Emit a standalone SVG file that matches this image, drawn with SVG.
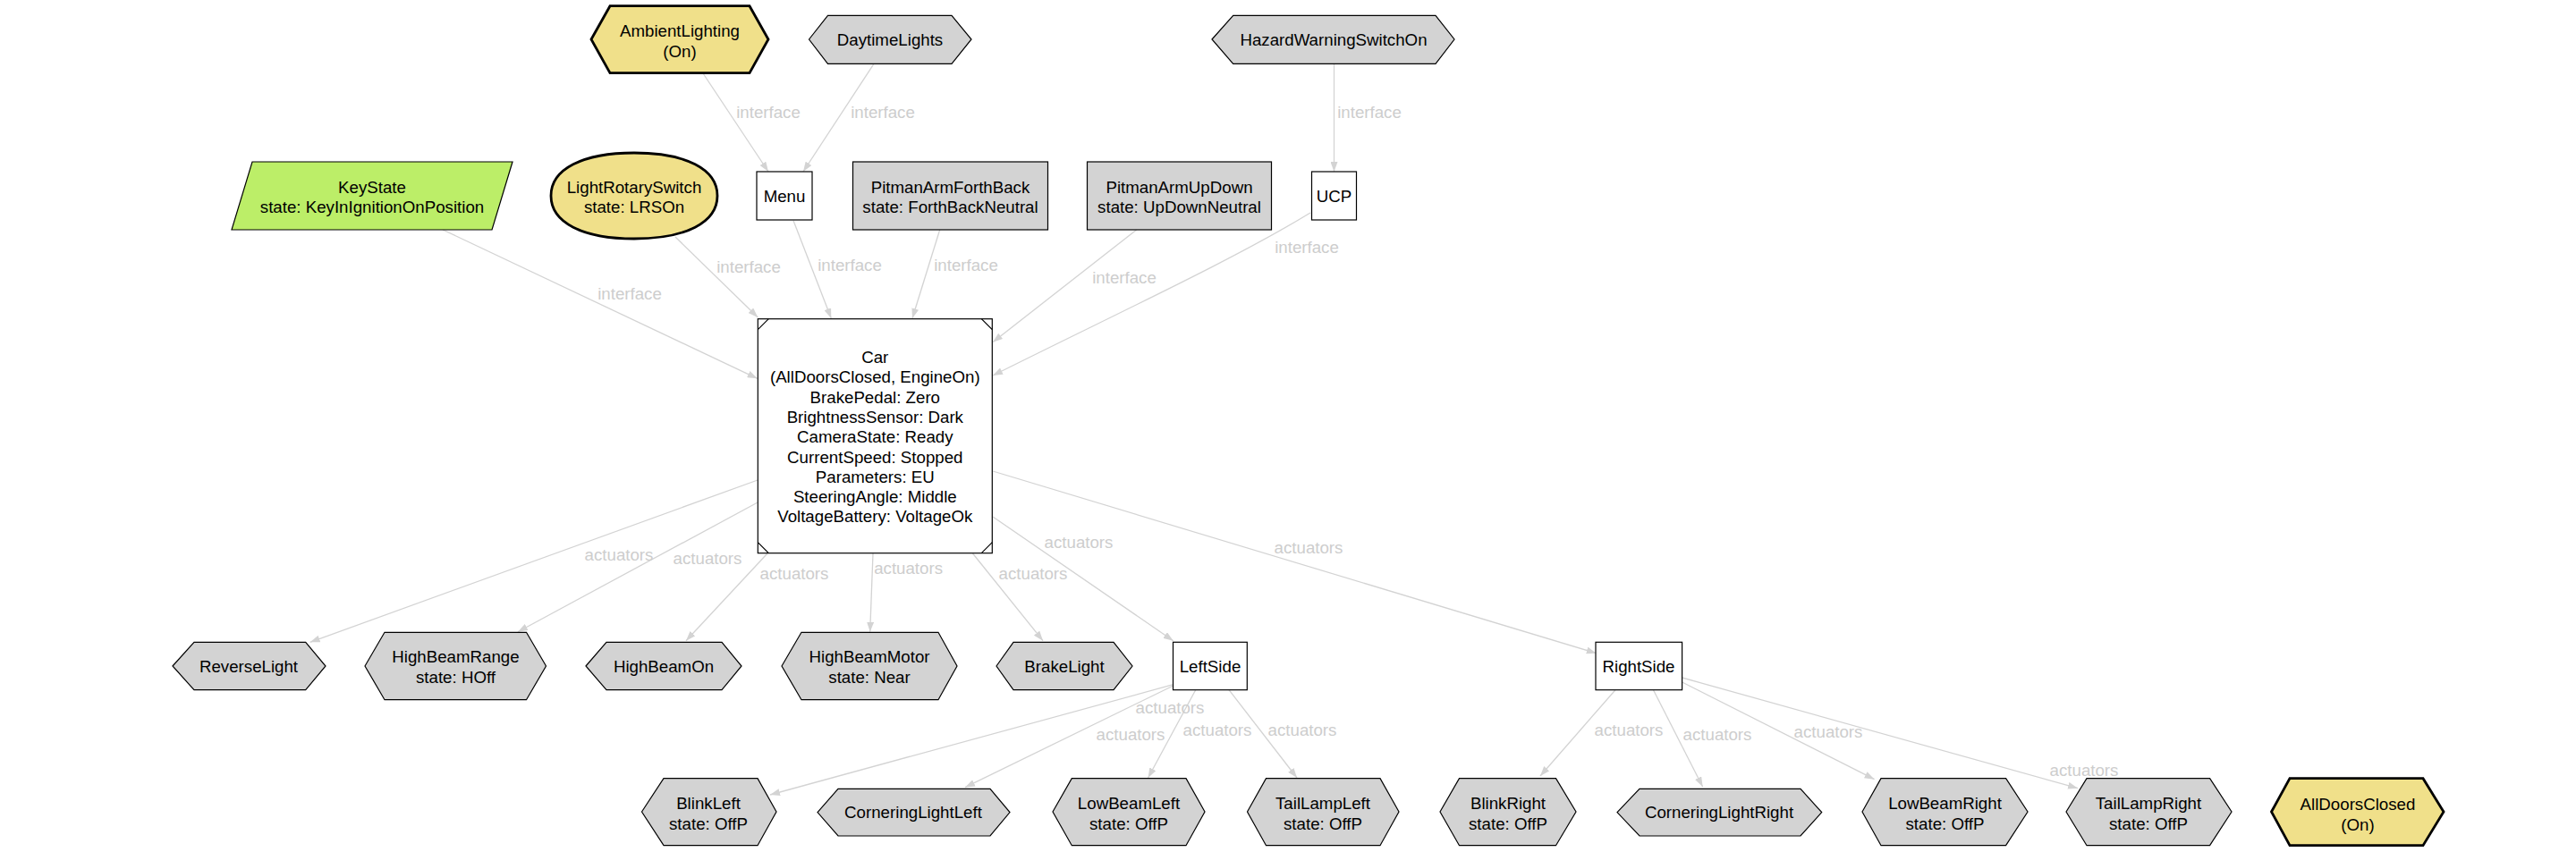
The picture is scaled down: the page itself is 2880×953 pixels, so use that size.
<svg xmlns="http://www.w3.org/2000/svg" width="2880" height="953" viewBox="0 0 2880 953">
<style>
text{font-family:"Liberation Sans",Arial,sans-serif;font-size:18.7px;text-anchor:middle;fill:#000}
.lbl{fill:#cdcdcd}
.e{fill:none;stroke:#d3d3d3;stroke-width:1.3;marker-end:url(#ah)}
.g{fill:#d3d3d3;stroke:#000;stroke-width:1.2}
.w{fill:#fff;stroke:#000;stroke-width:1.2}
.y{fill:#f0e08a;stroke:#000;stroke-width:2.8}
.k{fill:#bcee68;stroke:#000;stroke-width:1.2}
.c{stroke:#000;stroke-width:1.2;fill:none}
</style>
<defs>
<marker id="ah" markerUnits="userSpaceOnUse" markerWidth="12" markerHeight="8" refX="11" refY="4" orient="auto">
<path d="M0,0 L11,4 L0,8 z" fill="#d3d3d3"/>
</marker>
</defs>
<rect width="2880" height="953" fill="#fff"/>
<g id="connectors">
<path class="e" d="M786,82 L859,192"/>
<path class="e" d="M977,71.3 L898,192"/>
<path class="e" d="M1491.5,71.3 L1491.5,192"/>
<path class="e" d="M495,257 L846.7,423.3"/>
<path class="e" d="M755,265 L847.3,355"/>
<path class="e" d="M887,246.7 L929.3,356"/>
<path class="e" d="M1050.7,257 L1020,356"/>
<path class="e" d="M1270.7,257 L1110,382.7"/>
<path class="e" d="M1465,238 C1380,290 1250,350 1110,420"/>
<path class="e" d="M847,537 L346.7,718.3"/>
<path class="e" d="M847,562 L579,706.7"/>
<path class="e" d="M858,619 L767,716.7"/>
<path class="e" d="M976,619 L972.7,706.7"/>
<path class="e" d="M1087.5,619 L1166,716.7"/>
<path class="e" d="M1110,578 L1311.7,716.7"/>
<path class="e" d="M1110,527 L1784.7,730.7"/>
<path class="e" d="M1311.7,765.7 L861,889"/>
<path class="e" d="M1311.7,767 L1079,880.7"/>
<path class="e" d="M1336.7,771.7 L1283.6,870"/>
<path class="e" d="M1374,771.7 L1450,870"/>
<path class="e" d="M1806,771.7 L1722,868"/>
<path class="e" d="M1848.5,771.7 L1903.6,880"/>
<path class="e" d="M1880.6,763 L2095.6,871.7"/>
<path class="e" d="M1880.6,758 L2323,881.7"/>
<text class="lbl" x="859" y="131.5">interface</text>
<text class="lbl" x="987" y="131.5">interface</text>
<text class="lbl" x="1531" y="131.5">interface</text>
<text class="lbl" x="704" y="334.8">interface</text>
<text class="lbl" x="837" y="304.8">interface</text>
<text class="lbl" x="950" y="302.5">interface</text>
<text class="lbl" x="1080" y="302.5">interface</text>
<text class="lbl" x="1257" y="316.5">interface</text>
<text class="lbl" x="1461" y="282.5">interface</text>
<text class="lbl" x="692" y="626.5">actuators</text>
<text class="lbl" x="791" y="630.5">actuators</text>
<text class="lbl" x="888" y="648.2">actuators</text>
<text class="lbl" x="1015.6" y="642.2">actuators</text>
<text class="lbl" x="1155" y="648.2">actuators</text>
<text class="lbl" x="1206" y="612.5">actuators</text>
<text class="lbl" x="1463" y="618.8">actuators</text>
<text class="lbl" x="1308" y="797.5">actuators</text>
<text class="lbl" x="1264" y="827.5">actuators</text>
<text class="lbl" x="1361" y="822.5">actuators</text>
<text class="lbl" x="1456" y="822.5">actuators</text>
<text class="lbl" x="1821" y="823.2">actuators</text>
<text class="lbl" x="1920" y="828.2">actuators</text>
<text class="lbl" x="2044" y="824.8">actuators</text>
<text class="lbl" x="2330" y="868.2">actuators</text>
</g>
<g id="AmbientLighting">
<polygon class="y" points="661,44 682,6.7 838,6.7 859,44 838,81.7 682,81.7"/>
<text x="760" y="40.5">AmbientLighting</text>
<text x="760" y="63.5">(On)</text>
</g>
<g id="DaytimeLights">
<polygon class="g" points="904.5,44 925.5,17.3 1064,17.3 1086,44 1064,71.3 925.5,71.3"/>
<text x="995" y="51">DaytimeLights</text>
</g>
<g id="HazardWarningSwitchOn">
<polygon class="g" points="1355,44 1378.7,17.3 1605,17.3 1626,44 1605,71.3 1378.7,71.3"/>
<text x="1491" y="51">HazardWarningSwitchOn</text>
</g>
<g id="KeyState">
<polygon class="k" points="282,181 573,181 550,257 259,257"/>
<text x="416" y="215.5">KeyState</text>
<text x="416" y="237.5">state: KeyInIgnitionOnPosition</text>
</g>
<g id="LightRotarySwitch">
<path class="y" d="M616,219 C616,189.2 651.3,171 709,171 C766.7,171 802,189.2 802,219 C802,248.8 766.7,267 709,267 C651.3,267 616,248.8 616,219 Z"/>
<text x="709" y="215.5">LightRotarySwitch</text>
<text x="709" y="237.5">state: LRSOn</text>
</g>
<g id="Menu">
<rect class="w" x="846" y="192" width="62" height="54"/>
<text x="877" y="226">Menu</text>
</g>
<g id="PitmanArmForthBack">
<rect class="g" x="953.5" y="181" width="218" height="76"/>
<text x="1062.5" y="215.5">PitmanArmForthBack</text>
<text x="1062.5" y="237.5">state: ForthBackNeutral</text>
</g>
<g id="PitmanArmUpDown">
<rect class="g" x="1215.5" y="181" width="206" height="76"/>
<text x="1318.5" y="215.5">PitmanArmUpDown</text>
<text x="1318.5" y="237.5">state: UpDownNeutral</text>
</g>
<g id="UCP">
<rect class="w" x="1466.5" y="192" width="50" height="54"/>
<text x="1491.5" y="226">UCP</text>
</g>
<g id="Car">
<rect class="w" x="847.3" y="356.7" width="262" height="262"/>
<path class="c" d="M847.3,368.7 L859.3,356.7 M1097.3,356.7 L1109.3,368.7 M847.3,606.7 L859.3,618.7 M1097.3,618.7 L1109.3,606.7"/>
<text x="978.3" y="405.5">Car</text>
<text x="978.3" y="428">(AllDoorsClosed, EngineOn)</text>
<text x="978.3" y="450.5">BrakePedal: Zero</text>
<text x="978.3" y="472.7">BrightnessSensor: Dark</text>
<text x="978.3" y="495.3">CameraState: Ready</text>
<text x="978.3" y="517.5">CurrentSpeed: Stopped</text>
<text x="978.3" y="539.5">Parameters: EU</text>
<text x="978.3" y="562.3">SteeringAngle: Middle</text>
<text x="978.3" y="584.3">VoltageBattery: VoltageOk</text>
</g>
<g id="ReverseLight">
<polygon class="g" points="193,745 217,718.3 341.7,718.3 364,745 341.7,771.7 217,771.7"/>
<text x="278" y="751.5">ReverseLight</text>
</g>
<g id="HighBeamRange">
<polygon class="g" points="408,745 430,707.3 588.5,707.3 610.5,745 588.5,782.7 430,782.7"/>
<text x="509.5" y="740.5">HighBeamRange</text>
<text x="509.5" y="764">state: HOff</text>
</g>
<g id="HighBeamOn">
<polygon class="g" points="655,745 678,718.3 807,718.3 829,745 807,771.7 678,771.7"/>
<text x="742" y="751.5">HighBeamOn</text>
</g>
<g id="HighBeamMotor">
<polygon class="g" points="874,745 896,707.3 1049,707.3 1070,745 1049,782.7 896,782.7"/>
<text x="972" y="740.5">HighBeamMotor</text>
<text x="972" y="764">state: Near</text>
</g>
<g id="BrakeLight">
<polygon class="g" points="1114,745 1133,718.3 1245,718.3 1266,745 1245,771.7 1133,771.7"/>
<text x="1190" y="751.5">BrakeLight</text>
</g>
<g id="LeftSide">
<rect class="w" x="1311.5" y="718.3" width="82.8" height="53.4"/>
<text x="1353" y="751.5">LeftSide</text>
</g>
<g id="RightSide">
<rect class="w" x="1784" y="718.3" width="96.6" height="53.4"/>
<text x="1832" y="751.5">RightSide</text>
</g>
<g id="BlinkLeft">
<polygon class="g" points="717.5,908 742,870.7 847,870.7 868,908 847,945.7 742,945.7"/>
<text x="792" y="904.8">BlinkLeft</text>
<text x="792" y="928.2">state: OffP</text>
</g>
<g id="CorneringLightLeft">
<polygon class="g" points="914,908.6 937,882.3 1107,882.3 1129,908.6 1107,935 937,935"/>
<text x="1021" y="915">CorneringLightLeft</text>
</g>
<g id="LowBeamLeft">
<polygon class="g" points="1177,908 1198.3,870.7 1326,870.7 1347,908 1326,945.7 1198.3,945.7"/>
<text x="1262" y="904.8">LowBeamLeft</text>
<text x="1262" y="928.2">state: OffP</text>
</g>
<g id="TailLampLeft">
<polygon class="g" points="1394.5,908 1415.5,870.7 1543,870.7 1564,908 1543,945.7 1415.5,945.7"/>
<text x="1479" y="904.8">TailLampLeft</text>
<text x="1479" y="928.2">state: OffP</text>
</g>
<g id="BlinkRight">
<polygon class="g" points="1610,908 1631.5,870.7 1739.5,870.7 1762,908 1739.5,945.7 1631.5,945.7"/>
<text x="1686" y="904.8">BlinkRight</text>
<text x="1686" y="928.2">state: OffP</text>
</g>
<g id="CorneringLightRight">
<polygon class="g" points="1808,908.6 1833,882.3 2013,882.3 2036.7,908.6 2013,935 1833,935"/>
<text x="1922" y="915">CorneringLightRight</text>
</g>
<g id="LowBeamRight">
<polygon class="g" points="2082,908 2103,870.7 2242.6,870.7 2267,908 2242.6,945.7 2103,945.7"/>
<text x="2174.5" y="904.8">LowBeamRight</text>
<text x="2174.5" y="928.2">state: OffP</text>
</g>
<g id="TailLampRight">
<polygon class="g" points="2310,908 2333,870.7 2470.6,870.7 2495,908 2470.6,945.7 2333,945.7"/>
<text x="2402" y="904.8">TailLampRight</text>
<text x="2402" y="928.2">state: OffP</text>
</g>
<g id="AllDoorsClosed">
<polygon class="y" points="2539.5,908 2560,870.7 2709,870.7 2732,908 2709,945.7 2560,945.7"/>
<text x="2636" y="905.5">AllDoorsClosed</text>
<text x="2636" y="929">(On)</text>
</g>
</svg>
